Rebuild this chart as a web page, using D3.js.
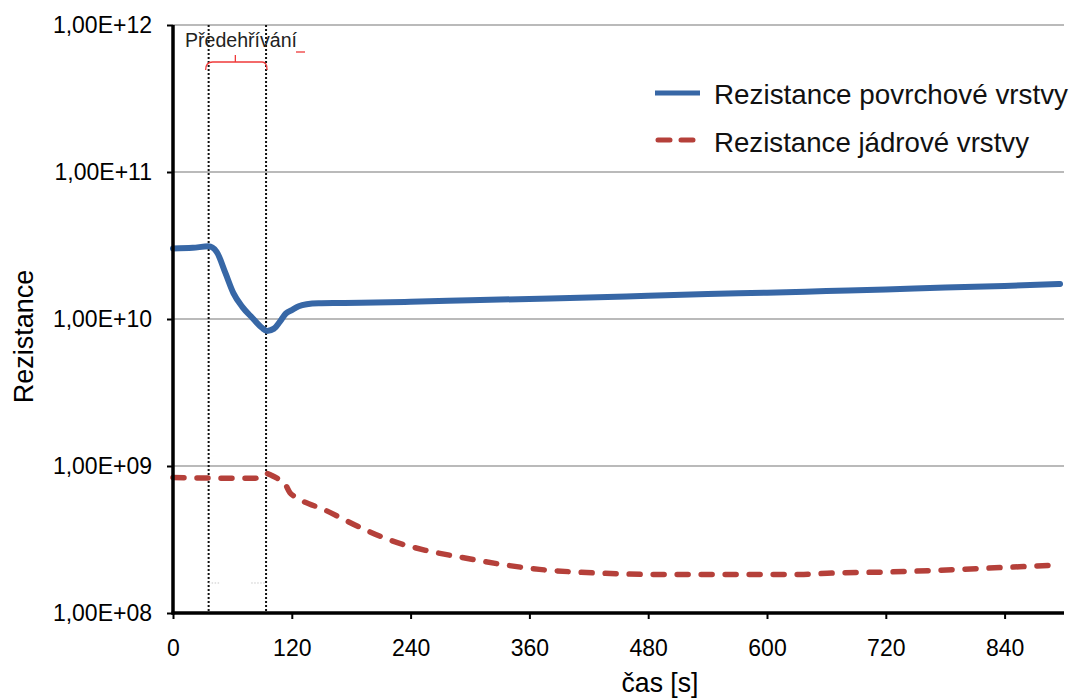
<!DOCTYPE html>
<html>
<head>
<meta charset="utf-8">
<script src="https://cdn.jsdelivr.net/npm/d3@7"></script>
<style>
  html, body { margin: 0; padding: 0; background: #fff; }
  svg { display: block; font-family: "Liberation Sans", Arial, sans-serif; }
</style>
</head>
<body>
<svg id="chart" width="1072" height="699"></svg>
<script>
// ---- data ----
const surfaceTime = [0, 20, 36, 44, 53, 61, 70, 80, 90, 95, 102, 108, 114, 120, 127, 135, 147, 170, 190, 240, 300, 360, 420, 480, 540, 600, 660, 720, 780, 840, 896];
const surfaceValues = [3.02e10, 3.05e10, 3.12e10, 2.87e10, 2.05e10, 1.5e10, 1.21e10, 1.02e10, 8.7e9, 8.3e9, 8.6e9, 9.6e9, 1.09e10, 1.15e10, 1.22e10, 1.26e10, 1.28e10, 1.285e10, 1.29e10, 1.31e10, 1.34e10, 1.37e10, 1.40e10, 1.44e10, 1.48e10, 1.51e10, 1.55e10, 1.59e10, 1.64e10, 1.68e10, 1.73e10];
const coreTime = [0, 36, 60, 83, 93, 100, 106, 113, 118, 124, 154, 188, 221, 255, 290, 330, 370, 430, 484, 565, 633, 666, 720, 788, 838, 886];
const coreValues = [8.35e8, 8.28e8, 8.25e8, 8.25e8, 8.95e8, 8.6e8, 8.2e8, 7.6e8, 6.6e8, 6.15e8, 5.0e8, 3.85e8, 3.1e8, 2.67e8, 2.4e8, 2.15e8, 1.98e8, 1.87e8, 1.83e8, 1.83e8, 1.83e8, 1.87e8, 1.90e8, 1.97e8, 2.04e8, 2.11e8];
const xTicks = [0, 120, 240, 360, 480, 600, 720, 840];
const yTicks = [1e8, 1e9, 1e10, 1e11, 1e12];
const yTickLabels = ["1,00E+08", "1,00E+09", "1,00E+10", "1,00E+11", "1,00E+12"];
const seriesNames = ["Rezistance povrchové vrstvy", "Rezistance jádrové vrstvy"];
const preheatStart = 36;
const preheatEnd = 94;
const annotationText = "Předehřívání";
const xTitle = "čas [s]";
const yTitle = "Rezistance";

// ---- layout ----
const L = 173, R = 1064, T = 25, B = 613;
const svg = d3.select("#chart");
const x = d3.scaleLinear().domain([0, 900]).range([L, R]);
const y = d3.scaleLog().domain([1e8, 1e12]).range([B, T]);

const blue = "#3767a6";
const red = "#b5403a";

// gridlines
svg.append("g").selectAll("line")
  .data(yTicks.filter(v => v > 1e8))
  .join("line")
  .attr("x1", L).attr("x2", R)
  .attr("y1", d => y(d)).attr("y2", d => y(d))
  .attr("stroke", "#a3a3a3").attr("stroke-width", 1.5);

// preheating dotted lines
svg.append("g").selectAll("line")
  .data([preheatStart, preheatEnd])
  .join("line")
  .attr("x1", d => x(d)).attr("x2", d => x(d))
  .attr("y1", T).attr("y2", B)
  .attr("stroke", "#111").attr("stroke-width", 2)
  .attr("stroke-dasharray", "2,2");

// faint grey dotted fragments
svg.append("g").selectAll("line")
  .data([[preheatStart, preheatStart + 12], [preheatEnd - 15, preheatEnd]])
  .join("line")
  .attr("x1", d => x(d[0])).attr("x2", d => x(d[1]))
  .attr("y1", y(1.6e8)).attr("y2", y(1.6e8))
  .attr("stroke", "#c8c8c8").attr("stroke-width", 1)
  .attr("stroke-dasharray", "1.5,1.5");

// annotation bracket
const bx0 = x(preheatStart), bx1 = x(preheatEnd), bxm = (bx0 + bx1) / 2 - 2;
const by = 62;
svg.append("path")
  .attr("d", `M${bx0 - 3},${by + 8} Q${bx0 - 3},${by} ${bx0 + 4},${by} L${bx1 - 4},${by} Q${bx1 + 1},${by} ${bx1 + 1},${by + 8} M${bxm},${by} L${bxm},${by - 7}`)
  .attr("fill", "none").attr("stroke", "#ef3a3a").attr("stroke-width", 1.3);
svg.append("line")
  .attr("x1", 296).attr("x2", 305).attr("y1", 52).attr("y2", 52)
  .attr("stroke", "#ef3a3a").attr("stroke-width", 1.3);
svg.append("text")
  .attr("x", 185).attr("y", 46.5)
  .attr("font-size", 20).attr("fill", "#222")
  .attr("textLength", 112).attr("lengthAdjust", "spacingAndGlyphs")
  .text(annotationText);

// lines
const line = d3.line().x(d => x(d[0])).y(d => y(d[1])).curve(d3.curveMonotoneX);
svg.append("path")
  .datum(coreTime.map((t, i) => [t, coreValues[i]]))
  .attr("d", line)
  .attr("fill", "none").attr("stroke", red).attr("stroke-width", 5.5)
  .attr("stroke-linecap", "round").attr("stroke-dasharray", "11,13");
svg.append("path")
  .datum(surfaceTime.map((t, i) => [t, surfaceValues[i]]))
  .attr("d", line)
  .attr("fill", "none").attr("stroke", blue).attr("stroke-width", 6)
  .attr("stroke-linejoin", "round").attr("stroke-linecap", "round");

// axes
const yAxis = svg.append("g").attr("transform", `translate(${L},0)`)
  .call(d3.axisLeft(y).tickValues(yTicks).tickFormat((d, i) => yTickLabels[i]).tickSize(6).tickSizeOuter(0).tickPadding(15));
const xAxis = svg.append("g").attr("transform", `translate(0,${B})`)
  .call(d3.axisBottom(x).tickValues(xTicks).tickFormat(d3.format("d")).tickSize(6).tickSizeOuter(0).tickPadding(21));
[yAxis, xAxis].forEach(a => {
  a.select(".domain").attr("stroke", "#000").attr("stroke-width", 3.5);
  a.selectAll(".tick line").attr("stroke", "#000").attr("stroke-width", 2);
  a.selectAll(".tick text").attr("fill", "#000").attr("font-size", 23)
    .attr("font-family", "'Liberation Sans', Arial, sans-serif");
});
yAxis.select(".domain").attr("d", `M0,${B + 1.5}V${T}`);
xAxis.select(".domain").attr("d", `M${L - 1.5},0H${R}`);

// axis titles
svg.append("text")
  .attr("transform", `translate(33,336.5) rotate(-90)`)
  .attr("text-anchor", "middle").attr("font-size", 27).attr("fill", "#000")
  .text(yTitle);
svg.append("text")
  .attr("x", 660).attr("y", 692)
  .attr("text-anchor", "middle").attr("font-size", 28).attr("fill", "#000")
  .attr("textLength", 77).attr("lengthAdjust", "spacingAndGlyphs")
  .text(xTitle);

// legend
const legend = svg.append("g");
legend.append("line")
  .attr("x1", 655).attr("x2", 700).attr("y1", 93).attr("y2", 93)
  .attr("stroke", blue).attr("stroke-width", 5);
legend.append("line")
  .attr("x1", 658).attr("x2", 697).attr("y1", 140).attr("y2", 140)
  .attr("stroke", red).attr("stroke-width", 5)
  .attr("stroke-linecap", "round").attr("stroke-dasharray", "12,11");
legend.selectAll("text")
  .data(seriesNames)
  .join("text")
  .attr("x", 714).attr("y", (d, i) => 104 + i * 48)
  .attr("font-size", 28).attr("fill", "#111")
  .attr("textLength", (d, i) => i === 0 ? 354 : 315).attr("lengthAdjust", "spacingAndGlyphs")
  .text(d => d);
</script>
</body>
</html>
